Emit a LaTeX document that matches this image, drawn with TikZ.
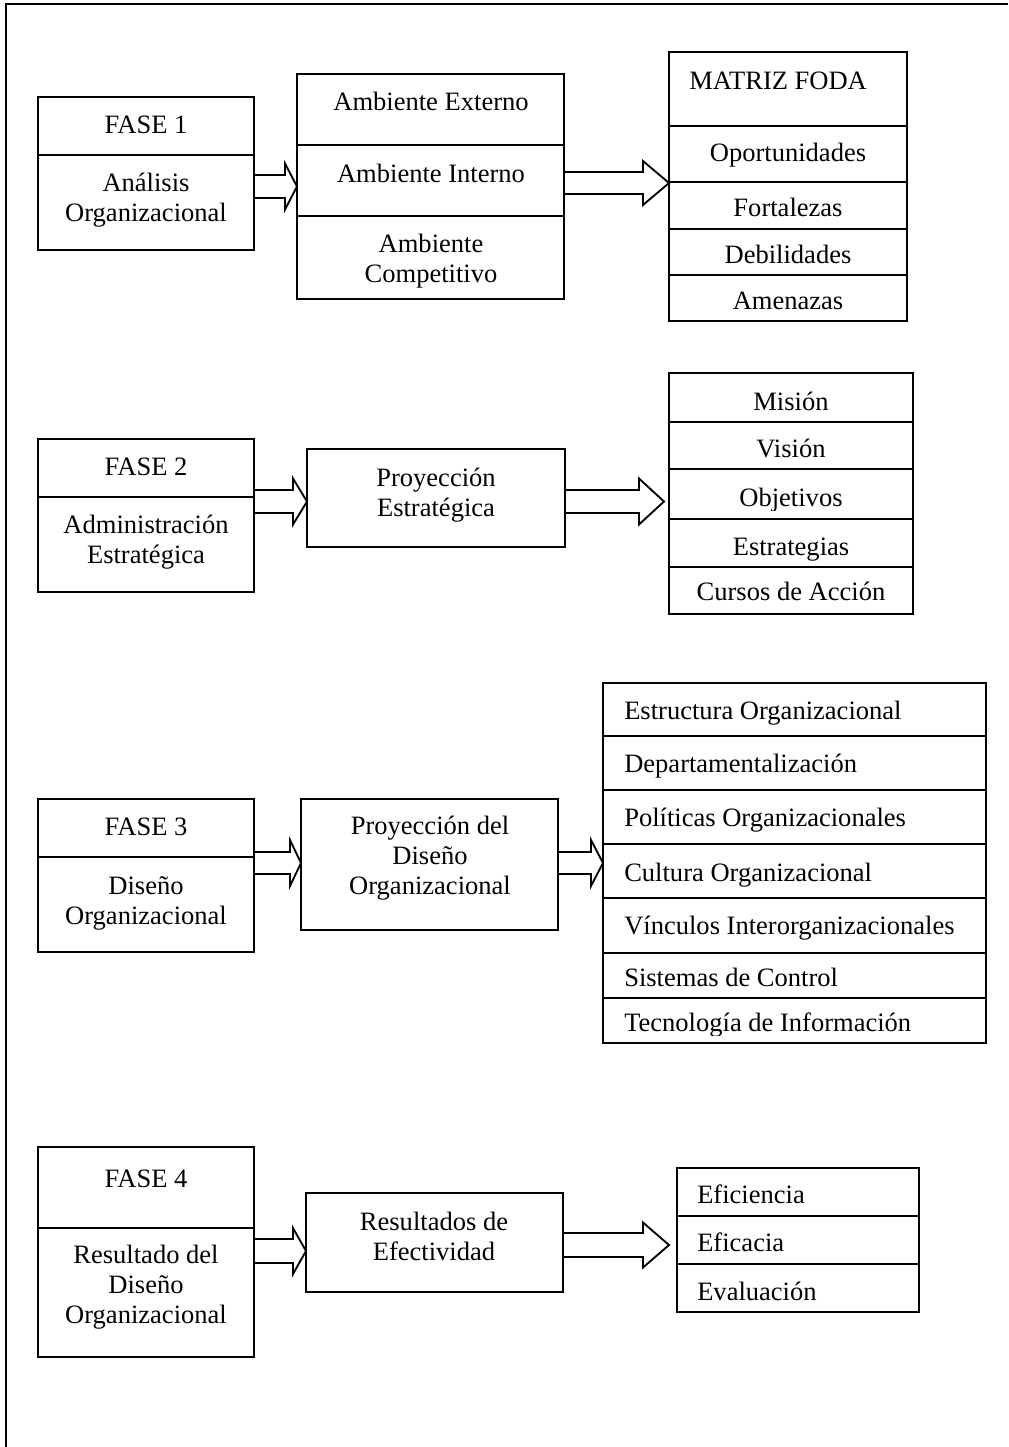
\documentclass[tikz,border=0pt]{standalone}
\usepackage{fontspec}
\setmainfont{Liberation Serif}
\usetikzlibrary{calc}
\tikzset{
  cellst/.style={draw, line width=1.4pt, rectangle, inner sep=0pt, outer sep=0pt},
  lbl/.style={inner sep=0pt, font=\fontsize{19.9pt}{22.5pt}\selectfont, text height=0.7em, text depth=0.2em},
  mlbl/.style={inner sep=0pt, font=\fontsize{19.9pt}{22.5pt}\selectfont, align=center},
  arrst/.style={line width=1.4pt, line join=miter},
  framest/.style={line width=1.5pt}
}
\newcommand\cellbox[5]{\node[cellst, minimum width={(#4-#2)*0.75pt}, minimum height={(#5-#3)*0.75pt}] (#1) at ({(#2+#4)/2},{(#3+#5)/2}) {};}
% source, target, y centre, shaft half, head half, head length, gap
\newcommand\blockarr[7]{%
  \coordinate (ta) at ($(#2.west)+(-#7,0)$);
  \coordinate (ha) at ($(ta)+(-#6,0)$);
  \pgfmathsetmacro\ysa{#3-#4}\pgfmathsetmacro\ysb{#3+#4}%
  \pgfmathsetmacro\yha{#3-#5}\pgfmathsetmacro\yhb{#3+#5}%
  \draw[arrst] (#1.east |- 0,\ysa) -- (ha |- 0,\ysa) -- (ha |- 0,\yha) -- (ta |- 0,#3)
     -- (ha |- 0,\yhb) -- (ha |- 0,\ysb) -- (#1.east |- 0,\ysb);
}
\begin{document}
\begin{tikzpicture}[x=0.75pt,y=-0.75pt]
\useasboundingbox (0,0) rectangle (1008,1447);
\draw[framest] (6,1447) -- (6,4) -- (1008,4);

% ---------- FASE 1 ----------
\cellbox{f1a}{38}{97}{254}{155}
\cellbox{f1b}{38}{155}{254}{250}
\node[lbl] (tf1a) at (146,130) {FASE 1};
\node[mlbl] (tf1b) at (146,200) {Análisis\\Organizacional};

\cellbox{m1a}{297}{74}{564}{145}
\cellbox{m1b}{297}{145}{564}{216}
\cellbox{m1c}{297}{216}{564}{299}
\node[lbl] (tm1a) at (431,107) {Ambiente Externo};
\node[lbl] (tm1b) at (431,179) {Ambiente Interno};
\node[mlbl] (tm1c) at (431,261) {Ambiente\\Competitivo};

\cellbox{r1a}{669}{52}{907}{126}
\cellbox{r1b}{669}{126}{907}{182}
\cellbox{r1c}{669}{182}{907}{229}
\cellbox{r1d}{669}{229}{907}{275}
\cellbox{r1e}{669}{275}{907}{321}
\node[lbl, anchor=west] (tr1a) at (689,86) {MATRIZ FODA};
\node[lbl] (tr1b) at (788,158) {Oportunidades};
\node[lbl] (tr1c) at (788,213) {Fortalezas};
\node[lbl] (tr1d) at (788,260) {Debilidades};
\node[lbl] (tr1e) at (788,306) {Amenazas};

\blockarr{f1b}{m1b}{186.5}{11.5}{23}{12}{0}
\blockarr{m1b}{r1b}{183}{11}{22}{26}{0}

% ---------- FASE 2 ----------
\cellbox{f2a}{38}{439}{254}{497}
\cellbox{f2b}{38}{497}{254}{592}
\node[lbl] (tf2a) at (146,472) {FASE 2};
\node[mlbl] (tf2b) at (146,542) {Administración\\Estratégica};

\cellbox{p2}{307}{449}{565}{547}
\node[mlbl] (tp2) at (436,495) {Proyección\\Estratégica};

\cellbox{r2a}{669}{373}{913}{422}
\cellbox{r2b}{669}{422}{913}{469}
\cellbox{r2c}{669}{469}{913}{519}
\cellbox{r2d}{669}{519}{913}{567}
\cellbox{r2e}{669}{567}{913}{614}
\node[lbl] (tr2a) at (791,407) {Misión};
\node[lbl] (tr2b) at (791,454) {Visión};
\begin{scope}
\clip (669,469) rectangle (913,510.5);
\node[lbl] (tr2c) at (791,503) {Objetivos};
\end{scope}
\node[lbl] (tr2d) at (791,552) {Estrategias};
\node[lbl] (tr2e) at (791,597) {Cursos de Acción};

\blockarr{f2b}{p2}{501.5}{11.5}{23}{14}{0}
\blockarr{p2}{r2c}{501.5}{11.5}{23}{25}{5}

% ---------- FASE 3 ----------
\cellbox{f3a}{38}{799}{254}{857}
\cellbox{f3b}{38}{857}{254}{952}
\node[lbl] (tf3a) at (146,832) {FASE 3};
\node[mlbl] (tf3b) at (146,903) {Diseño\\Organizacional};

\cellbox{p3}{301}{799}{558}{930}
\node[mlbl] (tp3) at (430,858) {Proyección del\\Diseño\\Organizacional};

\cellbox{r3a}{603}{683}{986}{736}
\cellbox{r3b}{603}{736}{986}{790}
\cellbox{r3c}{603}{790}{986}{844}
\cellbox{r3d}{603}{844}{986}{898}
\cellbox{r3e}{603}{898}{986}{953}
\cellbox{r3f}{603}{953}{986}{998}
\cellbox{r3g}{603}{998}{986}{1043}
\node[lbl, anchor=west] (tr3a) at (624,716) {Estructura Organizacional};
\node[lbl, anchor=west] (tr3b) at (624,769) {Departamentalización};
\node[lbl, anchor=west] (tr3c) at (624,823) {Políticas Organizacionales};
\node[lbl, anchor=west] (tr3d) at (624,878) {Cultura Organizacional};
\node[lbl, anchor=west] (tr3e) at (624,931) {Vínculos Interorganizacionales};
\node[lbl, anchor=west] (tr3f) at (624,983) {Sistemas de Control};
\begin{scope}
\clip (603,998) rectangle (986,1035);
\node[lbl, anchor=west] (tr3g) at (624,1028) {Tecnología de Información};
\end{scope}

\blockarr{f3b}{p3}{863}{11}{23}{11}{0}
\blockarr{p3}{r3d}{863}{11}{23}{12}{0}

% ---------- FASE 4 ----------
\cellbox{f4a}{38}{1147}{254}{1228}
\cellbox{f4b}{38}{1228}{254}{1357}
\node[lbl] (tf4a) at (146,1184) {FASE 4};
\node[mlbl] (tf4b) at (146,1287) {Resultado del\\Diseño\\Organizacional};

\cellbox{p4}{306}{1193}{563}{1292}
\node[mlbl] (tp4) at (434,1236) {Resultados de\\Efectividad};

\cellbox{r4a}{677}{1168}{919}{1216}
\cellbox{r4b}{677}{1216}{919}{1264}
\cellbox{r4c}{677}{1264}{919}{1312}
\node[lbl, anchor=west] (tr4a) at (697,1200) {Eficiencia};
\node[lbl, anchor=west] (tr4b) at (697,1248) {Eficacia};
\node[lbl, anchor=west] (tr4c) at (697,1297) {Evaluación};

\blockarr{f4b}{p4}{1251}{12}{23}{13}{0}
\blockarr{p4}{r4b}{1245}{12}{22.5}{26}{8}
\end{tikzpicture}
\end{document}
